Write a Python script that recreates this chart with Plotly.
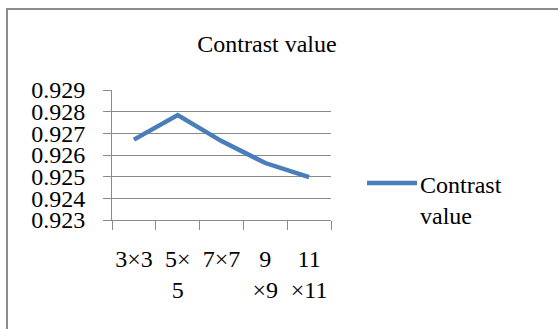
import plotly.graph_objects as go

# Window sizes of the filter and the contrast value measured for each
categories = ["3×3", "5×5", "7×7", "9×9", "11×11"]
tick_text = ["3×3", "5×<br>5", "7×7", "9<br>×9", "11<br>×11"]
contrast = [0.92671, 0.92784, 0.92664, 0.92563, 0.92498]
y_ticks = [0.923, 0.924, 0.925, 0.926, 0.927, 0.928, 0.929]

W, H = 558, 329
L, R, T, B = 112, 331, 90, 220  # plot area in pixels

def px(x):
    return (x - L) / (R - L)

def py(y):
    return (B - y) / (B - T)

FONT = "Liberation Serif, serif"
BLUE = "#4A7EBB"
GRID = "#8a8a8a"

fig = go.Figure()
fig.add_trace(go.Scatter(
    x=categories, y=contrast, mode="lines",
    line=dict(color=BLUE, width=4.5),
    name="Contrast value", showlegend=False,
))

fig.update_layout(
    width=W, height=H,
    margin=dict(l=L, r=W - R, t=T, b=H - B),
    paper_bgcolor="white", plot_bgcolor="white",
    font=dict(family=FONT, size=24, color="black"),
    title=dict(text="Contrast value", x=267 / W, xref="container", xanchor="center",
               y=1 - 44 / H, yref="container", yanchor="middle",
               font=dict(family=FONT, size=24, color="black")),
    xaxis=dict(
        type="category", tickmode="array", tickvals=categories, ticktext=tick_text,
        range=[-0.5, 4.5], tickson="boundaries", ticks="outside", ticklen=9,
        tickcolor=GRID, tickwidth=1, showgrid=False, showline=True,
        linecolor=GRID, linewidth=1, ticklabelstandoff=17, tickangle=0,
        tickfont=dict(family=FONT, size=24, color="black"),
    ),
    yaxis=dict(
        range=[0.923, 0.929], tickmode="array", tickvals=y_ticks,
        ticktext=[f"{v:.3f}" for v in y_ticks],
        ticks="outside", ticklen=8, tickcolor=GRID, tickwidth=1,
        showgrid=True, gridcolor=GRID, gridwidth=1,
        showline=True, linecolor=GRID, linewidth=1, ticklabelstandoff=13,
        zeroline=False,
        tickfont=dict(family=FONT, size=24, color="black"),
    ),
)

# Chart frame
fig.add_shape(type="rect", xref="paper", yref="paper",
              x0=px(7), x1=px(W + 20), y0=py(9), y1=py(H + 20),
              line=dict(color="#8c8c8c", width=2), fillcolor="rgba(0,0,0,0)", layer="below")

# Legend: line sample and label
fig.add_shape(type="line", xref="paper", yref="paper",
              x0=px(367), x1=px(417), y0=py(183), y1=py(183),
              line=dict(color=BLUE, width=4.5))
fig.add_annotation(text="Contrast<br>value", xref="paper", yref="paper",
                   x=px(418), y=py(170), xanchor="left", yanchor="top", align="left",
                   showarrow=False, font=dict(family=FONT, size=24, color="black"))

fig.write_html("out.html")
